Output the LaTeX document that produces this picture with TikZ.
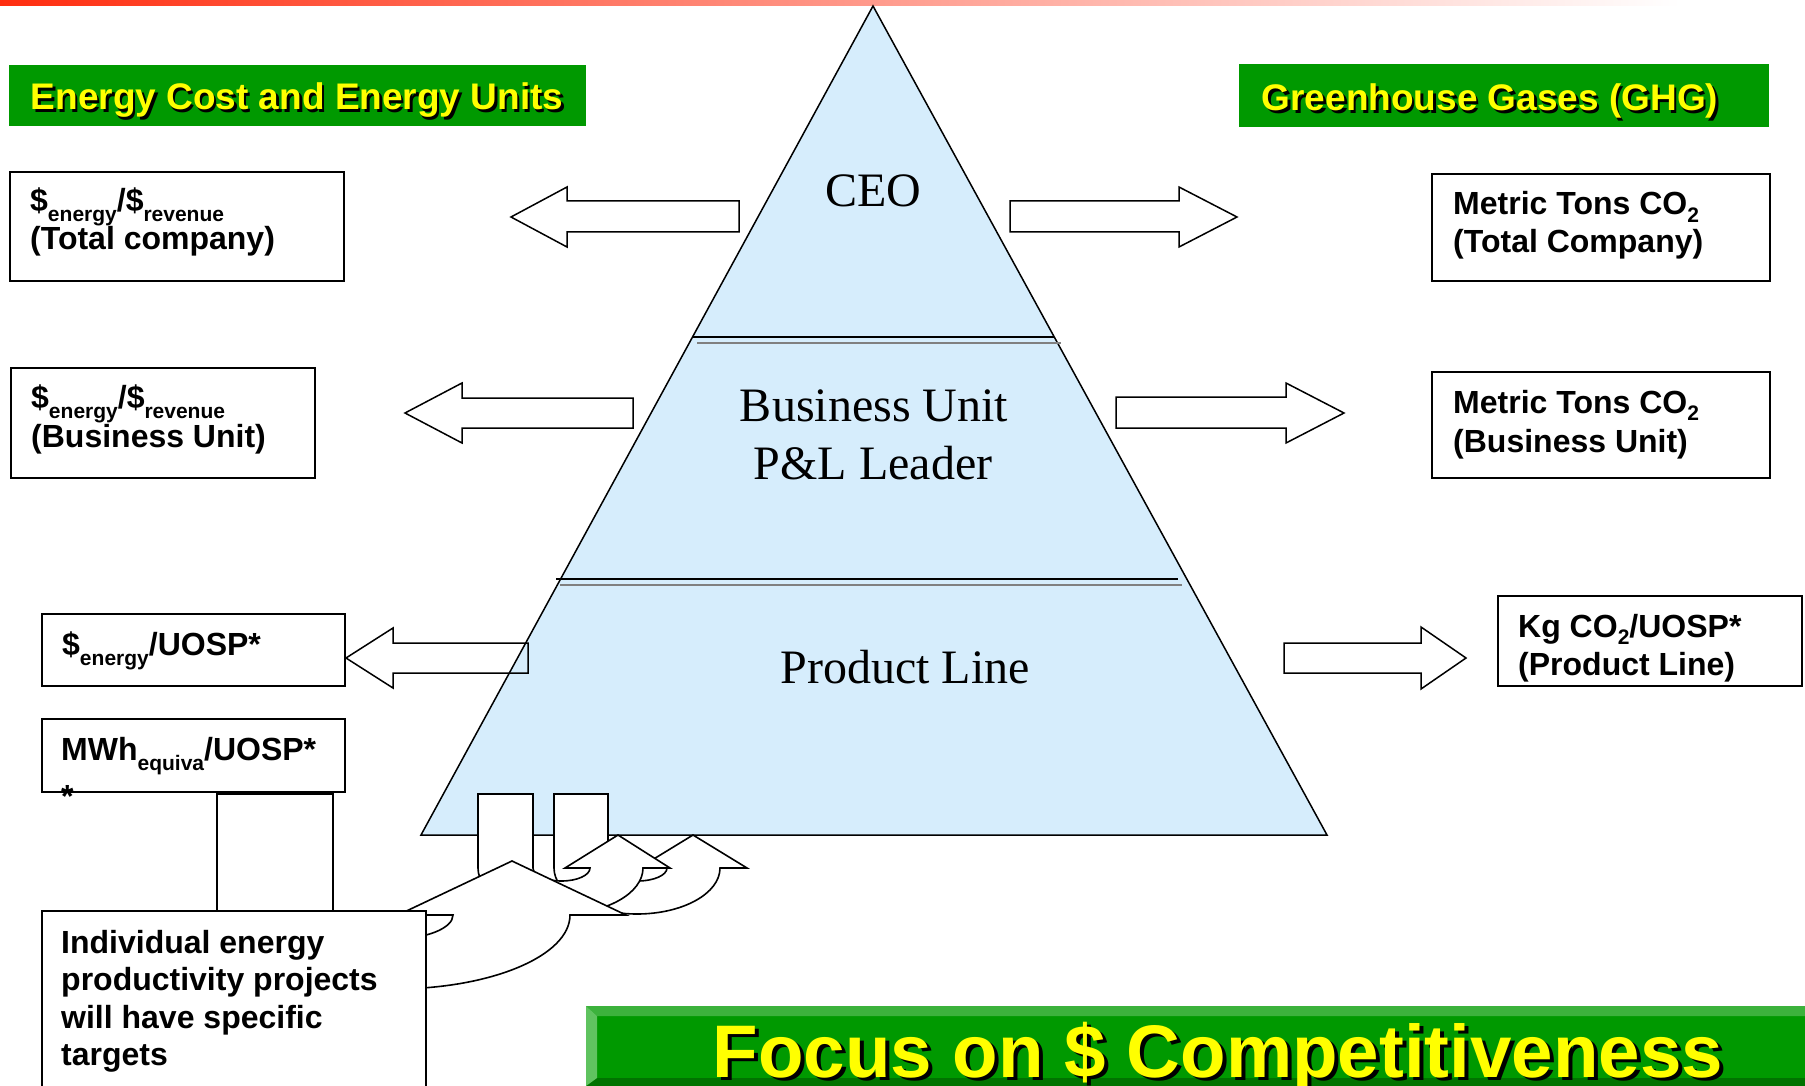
\documentclass[tikz,border=0pt]{standalone}
\usepackage{fontspec}
\setmainfont{Liberation Serif}
\newfontfamily\arialf{Liberation Sans}
\definecolor{pyrblue}{RGB}{214,237,252}
\definecolor{hdrgreen}{RGB}{0,153,0}
\definecolor{bevtop}{RGB}{60,178,60}
\definecolor{bevleft}{RGB}{95,195,95}
\definecolor{bevbot}{RGB}{0,115,0}
\definecolor{barred}{RGB}{255,45,15}
\definecolor{ylw}{RGB}{255,255,0}
\definecolor{divgray}{RGB}{128,128,128}
\newcommand\sbx[2]{\raisebox{-#1pt}{\fontsize{21}{21}\selectfont #2}}
\begin{document}
\begin{tikzpicture}[x=1pt,y=1pt,
  boxst/.style={draw=black, line width=1.8pt, fill=white, inner sep=0pt, anchor=north west},
  lbl/.style={font=\arialf\bfseries\fontsize{32}{38}\selectfont, inner sep=0pt, anchor=base west},
  pyrtxt/.style={font=\fontsize{48}{58}\selectfont, inner sep=0pt, anchor=base},
  hdr/.style={font=\arialf\bfseries\fontsize{37}{44}\selectfont, inner sep=0pt, anchor=base},
  bigtxt/.style={font=\arialf\bfseries\fontsize{74.5}{90}\selectfont, inner sep=0pt, anchor=base},
  blockarrow/.style={draw=black, line width=1.5pt, line join=miter},
  curvearrow/.style={draw=black, line width=1.6pt, fill=white, line join=miter},
  hdrbox/.style={fill=hdrgreen, inner sep=0pt, anchor=north west},
]
\useasboundingbox (0,0) rectangle (1805,-1086);
\clip (0,0) rectangle (1805,-1086);
\fill[white] (0,0) rectangle (1805,-1086);
% top gradient bar
\shade[left color=barred, right color=white] (0,0) rectangle (1680,-6);

% green headers
\node[hdrbox, minimum width=577pt, minimum height=61pt] (hdrL) at (9,-65) {};
\node[hdr, text=black] (hdrLs) at (299.5,-112.5) {Energy Cost and Energy Units};
\node[hdr, text=ylw] (hdrLt) at (297,-110) {Energy Cost and Energy Units};
\node[hdrbox, minimum width=530pt, minimum height=63pt] (hdrR) at (1239,-64) {};
\node[hdr, text=black] (hdrRs) at (1492.5,-113.5) {Greenhouse Gases (GHG)};
\node[hdr, text=ylw] (hdrRt) at (1490,-111) {Greenhouse Gases (GHG)};

% pyramid
\coordinate (apex) at (873,-6);
\coordinate (bR) at (1327,-835);
\coordinate (bL) at (421,-835);
\filldraw[fill=pyrblue, draw=black, line width=1.5pt, line join=miter] (apex) -- (bR) -- (bL) -- cycle;
\draw[black, line width=1.8pt] (693,-337) -- (1054,-337);
\draw[divgray, line width=2.6pt] (697,-343) -- (1061,-343);
\draw[black, line width=1.8pt] (556,-579) -- (1178,-579);
\draw[divgray, line width=2.6pt] (560,-585) -- (1182,-585);

\node[pyrtxt] (ceo) at (873,-207) {CEO};
\node[pyrtxt] (bu1) at (874,-421) {Business Unit};
\node[pyrtxt] (bu2) at (873,-479) {P\&L Leader};
\node[pyrtxt] (pl) at (905,-683) {Product Line};

% block arrows
\draw[blockarrow] (511,-217) -- (567,-187) -- (567,-201) -- (739,-201) -- (739,-232) -- (567,-232) -- (567,-247) -- cycle;
\draw[blockarrow] (405,-413) -- (462,-383) -- (462,-398) -- (633,-398) -- (633,-428) -- (462,-428) -- (462,-443) -- cycle;
\draw[blockarrow] (346,-658) -- (393,-628) -- (393,-643) -- (528,-643) -- (528,-673) -- (393,-673) -- (393,-688) -- cycle;
\draw[blockarrow] (1237,-217) -- (1179,-187) -- (1179,-201) -- (1010,-201) -- (1010,-232) -- (1179,-232) -- (1179,-247) -- cycle;
\draw[blockarrow] (1344,-413) -- (1286,-383) -- (1286,-397) -- (1116,-397) -- (1116,-428) -- (1286,-428) -- (1286,-443) -- cycle;
\draw[blockarrow] (1466,-658) -- (1421,-627) -- (1421,-643) -- (1284,-643) -- (1284,-673) -- (1421,-673) -- (1421,-689) -- cycle;

% boxes left
\node[boxst, minimum width=334pt, minimum height=109pt] (L1) at (9,-171) {};
\node[lbl] (L1a) at (30,-212) {\$\sbx{10}{energy}/\$\sbx{10}{revenue}};
\node[lbl] (L1b) at (30,-250) {(Total company)};
\node[boxst, minimum width=304pt, minimum height=110pt] (L2) at (10,-367) {};
\node[lbl] (L2a) at (31,-408) {\$\sbx{10}{energy}/\$\sbx{10}{revenue}};
\node[lbl] (L2b) at (31,-447) {(Business Unit)};
\node[boxst, minimum width=303pt, minimum height=72pt] (L3) at (41,-613) {};
\node[lbl] (L3a) at (62,-655) {\$\sbx{10}{energy}/UOSP*};

% boxes right
\node[boxst, minimum width=338pt, minimum height=107pt] (R1) at (1431,-173) {};
\node[lbl] (R1a) at (1453,-215) {Metric Tons CO\sbx{7.5}{2}};
\node[lbl] (R1b) at (1453,-253) {(Total Company)};
\node[boxst, minimum width=338pt, minimum height=106pt] (R2) at (1431,-371) {};
\node[lbl] (R2a) at (1453,-413) {Metric Tons CO\sbx{7.5}{2}};
\node[lbl] (R2b) at (1453,-452) {(Business Unit)};
\node[boxst, minimum width=304pt, minimum height=90pt] (R3) at (1497,-595) {};
\node[lbl] (R3a) at (1518,-637) {Kg CO\sbx{7.5}{2}/UOSP*};
\node[lbl] (R3b) at (1518,-675) {(Product Line)};

% curved arrows (C behind B behind A)
\filldraw[curvearrow] (554,-794) -- (554,-868) arc[start angle=180, end angle=360, x radius=83pt, y radius=46pt] -- (747,-868) -- (693,-835) -- (639,-868) -- (667,-868) arc[start angle=0, end angle=-180, x radius=29.5pt, y radius=13pt] -- (608,-794) -- cycle;
\filldraw[curvearrow] (478,-794) -- (478,-868) arc[start angle=180, end angle=360, x radius=82.5pt, y radius=46pt] -- (670,-868) -- (618,-835) -- (565,-868) -- (590,-868) arc[start angle=0, end angle=-180, x radius=28.5pt, y radius=13pt] -- (533,-794) -- cycle;
\filldraw[curvearrow] (217,-794) -- (217,-915) arc[start angle=180, end angle=360, x radius=176.5pt, y radius=74pt] -- (626,-915) -- (512,-861) -- (398,-915) -- (453,-915) arc[start angle=0, end angle=-180, x radius=60pt, y radius=24pt] -- (333,-794) -- cycle;

% bottom-left boxes
\node[boxst, minimum width=303pt, minimum height=73pt] (MW) at (41,-718) {};
\node[lbl] (MWa) at (61,-760) {MWh\sbx{10}{equiva}/UOSP*};
\node[lbl] (MWb) at (61,-807) {*};
\node[boxst, minimum width=384pt, minimum height=200pt] (IN) at (41,-910) {};
\node[lbl] (INa) at (61,-953) {Individual energy};
\node[lbl] (INb) at (61,-990) {productivity projects};
\node[lbl] (INc) at (61,-1028) {will have specific};
\node[lbl] (INd) at (61,-1065) {targets};

% banner
\fill[hdrgreen] (586,-1006) rectangle (1805,-1086);
\fill[bevtop] (586,-1006) -- (1805,-1006) -- (1805,-1016) -- (597,-1016) -- cycle;
\fill[bevbot] (597,-1078) -- (1805,-1078) -- (1805,-1086) -- (586,-1086) -- cycle;
\fill[bevleft] (586,-1006) -- (597,-1016) -- (597,-1078) -- (586,-1086) -- cycle;
\node[bigtxt, text=black] (bans) at (1222,-1080) {Focus on \$ Competitiveness};
\node[bigtxt, text=ylw] (bant) at (1218,-1077) {Focus on \$ Competitiveness};
\end{tikzpicture}
\end{document}
